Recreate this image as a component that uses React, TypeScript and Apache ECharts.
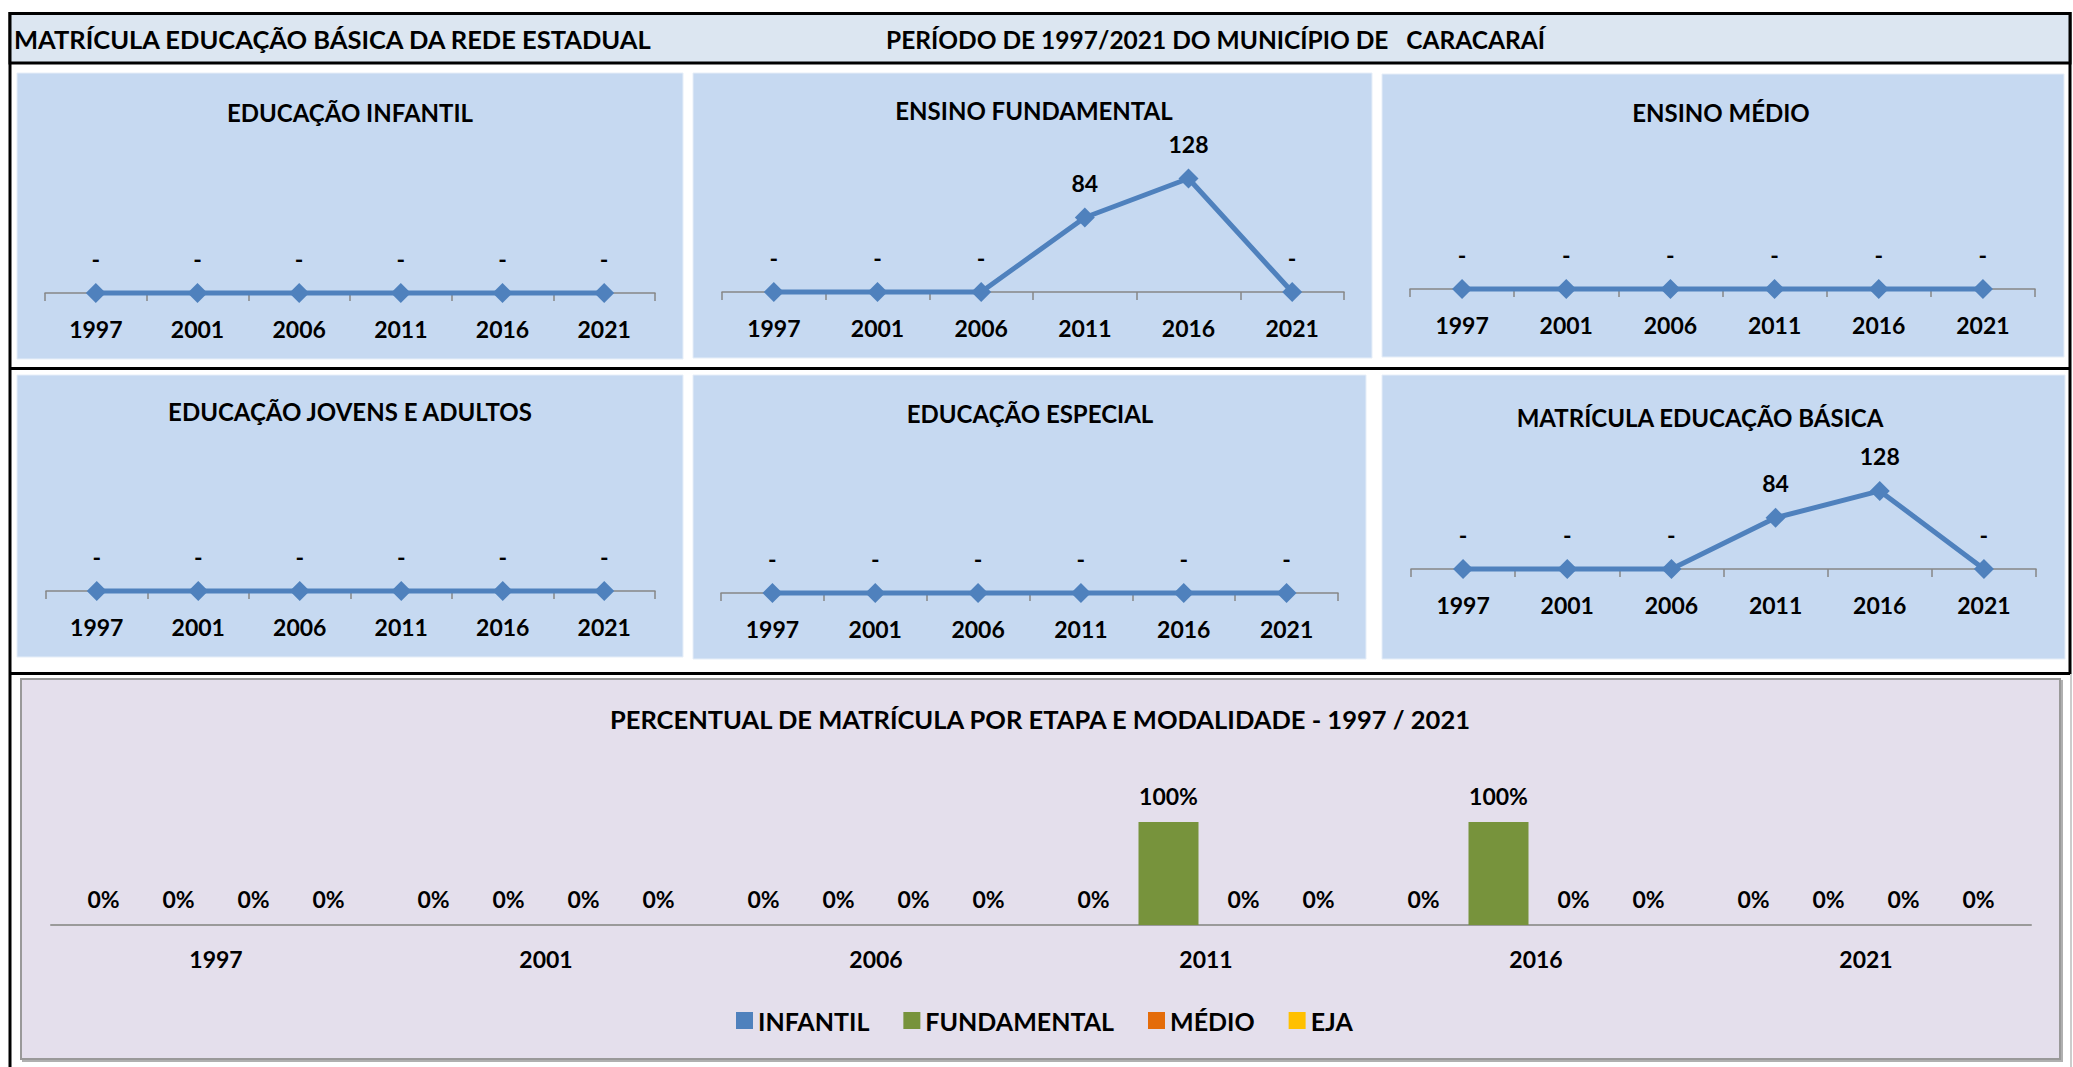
import React, { useEffect, useRef } from "react";
import * as echarts from "echarts";

// ---- data ----
const years = ["1997", "2001", "2006", "2011", "2016", "2021"];
const infantil = [0, 0, 0, 0, 0, 0];
const fundamental = [0, 0, 0, 84, 128, 0];
const medio = [0, 0, 0, 0, 0, 0];
const eja = [0, 0, 0, 0, 0, 0];
const especial = [0, 0, 0, 0, 0, 0];
const basica = [0, 0, 0, 84, 128, 0];

const pctInfantil = [0, 0, 0, 0, 0, 0];
const pctFundamental = [0, 0, 0, 1, 1, 0];
const pctMedio = [0, 0, 0, 0, 0, 0];
const pctEja = [0, 0, 0, 0, 0, 0];

const headerLeft = "MATRÍCULA EDUCAÇÃO BÁSICA DA REDE ESTADUAL";
const headerRight = "PERÍODO DE 1997/2021 DO MUNICÍPIO DE   CARACARAÍ";
const panelTitles = [
  "EDUCAÇÃO INFANTIL",
  "ENSINO FUNDAMENTAL",
  "ENSINO MÉDIO",
  "EDUCAÇÃO JOVENS E ADULTOS",
  "EDUCAÇÃO ESPECIAL",
  "MATRÍCULA EDUCAÇÃO BÁSICA",
];
const barTitle = "PERCENTUAL DE MATRÍCULA POR ETAPA E MODALIDADE - 1997 / 2021";
const legendNames = ["INFANTIL", "FUNDAMENTAL", "MÉDIO", "EJA"];

const lineData = [infantil, fundamental, medio, eja, especial, basica];
const barData = [pctInfantil, pctFundamental, pctMedio, pctEja];

// ---- layout / style ----
const FONT = "Lato";
const LINE_COLOR = "#4F81BD";
const BAR_COLORS = ["#4F81BD", "#77933C", "#E46C0A", "#FFC000"];
const AXIS_COLOR = "#868686";

const panels = [
  { bg: [17, 73, 666, 286], title: [350, 112], axisY: 293, x0: 45, x1: 655, h: 133 },
  { bg: [693, 73, 679, 285], title: [1034, 110], axisY: 292, x0: 722, x1: 1344, h: 133 },
  { bg: [1382, 74, 682, 283], title: [1721, 112], axisY: 289, x0: 1410, x1: 2035, h: 133 },
  { bg: [17, 375, 666, 282], title: [350, 411], axisY: 591, x0: 46, x1: 655, h: 133 },
  { bg: [693, 375, 673, 284], title: [1030, 413], axisY: 593, x0: 721, x1: 1338, h: 133 },
  { bg: [1382, 375, 683, 284], title: [1700, 417], axisY: 569, x0: 1411, x1: 2036, h: 91.5 },
];

function txt(text: string, x: number, y: number, size: number, align = "center", weight = "bold") {
  return {
    type: "text",
    x,
    y,
    z: 20,
    style: {
      text,
      fill: "#000",
      fontSize: size,
      fontWeight: weight,
      fontFamily: FONT,
      align,
      verticalAlign: "middle",
      textAlign: align,
      textVerticalAlign: "middle",
    },
  };
}

function buildOption() {
  const grids: any[] = [];
  const xAxes: any[] = [];
  const yAxes: any[] = [];
  const series: any[] = [];
  const graphics: any[] = [];

  // frame
  graphics.push({ type: "rect", z: -20, shape: { x: 0, y: 0, width: 2073, height: 1067 }, style: { fill: "#fff" } });
  graphics.push({ type: "line", z: -5, shape: { x1: 10, y1: 12, x2: 10, y2: 1067 }, style: { stroke: "#000", lineWidth: 3 } });
  graphics.push({ type: "line", z: -5, shape: { x1: 2070, y1: 12, x2: 2070, y2: 674 }, style: { stroke: "#000", lineWidth: 3 } });
  graphics.push({ type: "line", z: -5, shape: { x1: 2071, y1: 674, x2: 2071, y2: 1067 }, style: { stroke: "#999", lineWidth: 1 } });
  graphics.push({
    type: "rect",
    z: -5,
    shape: { x: 10, y: 13.5, width: 2060, height: 49.5 },
    style: { fill: "#DCE6F1", stroke: "#000", lineWidth: 3 },
  });
  graphics.push({ type: "line", z: -5, shape: { x1: 10, y1: 368.5, x2: 2070, y2: 368.5 }, style: { stroke: "#000", lineWidth: 3 } });
  graphics.push({ type: "line", z: -5, shape: { x1: 10, y1: 673.5, x2: 2070, y2: 673.5 }, style: { stroke: "#000", lineWidth: 3 } });
  graphics.push(txt(headerLeft, 14, 39, 25.5, "left"));
  graphics.push(txt(headerRight, 886, 39, 24.5, "left"));

  panels.forEach((p, i) => {
    graphics.push({
      type: "rect",
      z: -10,
      shape: { x: p.bg[0], y: p.bg[1], width: p.bg[2], height: p.bg[3] },
      style: { fill: "#C6D9F1", stroke: "#E6EEF8", lineWidth: 1 },
    });
    graphics.push(txt(panelTitles[i], p.title[0], p.title[1], 24));
    grids.push({ left: p.x0, width: p.x1 - p.x0, top: p.axisY - p.h, height: p.h, outerBoundsMode: "none" });
    xAxes.push({
      type: "category",
      gridIndex: i,
      data: years,
      boundaryGap: true,
      axisLine: { lineStyle: { color: AXIS_COLOR, width: 1.5 } },
      axisTick: { show: true, length: 8, lineStyle: { color: AXIS_COLOR, width: 1.5 } },
      axisLabel: { interval: 0, margin: 24, fontSize: 23, fontWeight: "bold", fontFamily: FONT, color: "#000" },
      splitLine: { show: false },
    });
    yAxes.push({ type: "value", gridIndex: i, min: 0, max: 150, show: false });
    series.push({
      type: "line",
      name: panelTitles[i],
      xAxisIndex: i,
      yAxisIndex: i,
      data: lineData[i],
      clip: false,
      symbol: "diamond",
      symbolSize: 20,
      lineStyle: { color: LINE_COLOR, width: 5 },
      itemStyle: { color: LINE_COLOR },
      label: {
        show: true,
        position: "top",
        distance: 13,
        formatter: (d: any) => (d.value === 0 ? "-" : String(d.value)),
        fontSize: 23,
        fontWeight: "bold",
        fontFamily: FONT,
        color: "#000",
      },
    });
  });

  // bottom panel
  graphics.push({
    type: "rect",
    z: -10,
    shape: { x: 21, y: 679, width: 2039, height: 380 },
    style: { fill: "#E4DFEC", stroke: "#999", lineWidth: 2, shadowColor: "#b0b0b0", shadowOffsetX: 2, shadowOffsetY: 2, shadowBlur: 1 },
  });
  graphics.push(txt(barTitle, 1040, 719, 25.5));

  grids.push({ left: 51, width: 1980, top: 822, height: 103, outerBoundsMode: "none" });
  xAxes.push({
    type: "category",
    gridIndex: 6,
    data: years,
    boundaryGap: true,
    axisLine: { lineStyle: { color: "#9a9a9a", width: 2 } },
    axisTick: { show: false },
    axisLabel: { interval: 0, margin: 22, fontSize: 23, fontWeight: "bold", fontFamily: FONT, color: "#000" },
    splitLine: { show: false },
  });
  yAxes.push({ type: "value", gridIndex: 6, min: 0, max: 1, show: false });
  legendNames.forEach((n, k) => {
    series.push({
      type: "bar",
      name: n,
      xAxisIndex: 6,
      yAxisIndex: 6,
      data: barData[k],
      barWidth: 60,
      barGap: "25%",
      itemStyle: { color: BAR_COLORS[k] },
      label: {
        show: true,
        position: "top",
        distance: 15,
        formatter: (d: any) => Math.round(d.value * 100) + "%",
        fontSize: 23,
        fontWeight: "bold",
        fontFamily: FONT,
        color: "#000",
      },
    });
  });

  return {
    animation: false,
    backgroundColor: "#fff",
    grid: grids,
    xAxis: xAxes,
    yAxis: yAxes,
    series,
    legend: {
      data: legendNames,
      left: 731,
      top: 1003,
      itemWidth: 17,
      itemHeight: 17,
      itemGap: 34,
      icon: "rect",
      selectedMode: false,
      textStyle: { fontSize: 25, fontWeight: "bold", fontFamily: FONT, color: "#000" },
    },
    graphic: { elements: graphics },
  };
}

export default function App() {
  const ref = useRef<HTMLDivElement>(null);
  useEffect(() => {
    document.body.style.margin = "0";
    document.body.style.overflow = "hidden";
    const chart = echarts.init(ref.current!, null, { renderer: "svg" });
    chart.setOption(buildOption() as any);
    return () => chart.dispose();
  }, []);
  return (
    <div
      ref={ref}
      style={{ position: "absolute", left: 0, top: 0, width: 2073, height: 1067, background: "#fff" }}
    />
  );
}
